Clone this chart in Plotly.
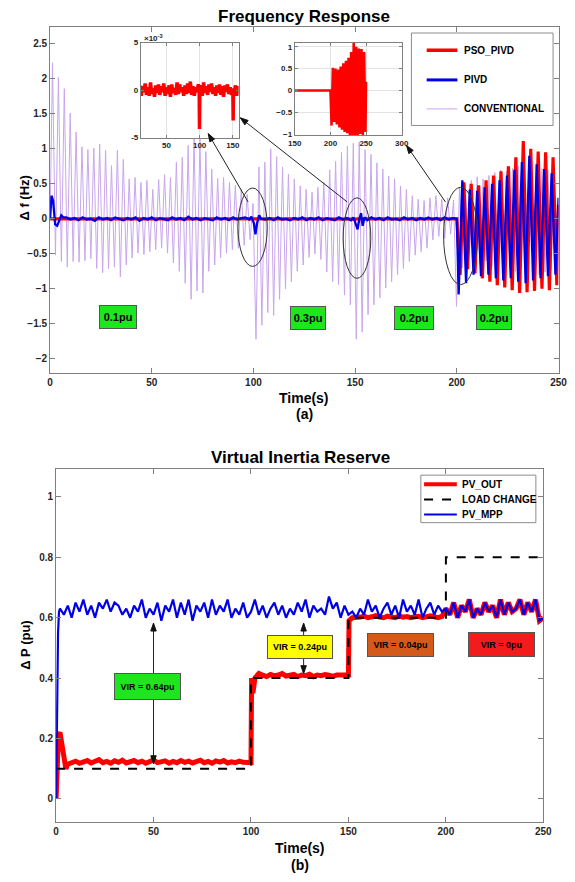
import math
import plotly.graph_objects as go

# ================= DATA =================
# --- Top panel: frequency response ---
conv_t0 = 1.2          # time of first conventional peak (s)
conv_T = 2.9           # conventional oscillation period (s)
conv_max = [2.23, 2.02, 1.86, 1.51, 1.24, 1.03, 0.99, 1.01, 1.07, 0.98,
            0.76, 0.98, 0.85, 0.57, 0.59, 0.52, 0.55, 0.42, 0.56, 0.63,
            0.59, 0.81, 0.88, 1.05, 1.15, 1.15, 0.96, 0.71, 0.58, 0.59,
            0.52, 0.48, 0.42, 0.35, 0.22, 0.74, 0.81, 1.00, 0.89, 0.74,
            0.64, 0.57, 0.47, 0.42, 0.38, 0.45, 0.52, 0.70, 0.82, 0.95,
            1.04, 1.08, 1.10, 0.99, 0.92, 0.80, 0.71, 0.61, 0.57, 0.47,
            0.42, 0.33, 0.28, 0.26, 0.30, 0.33, 0.28, 0.30, 0.27, 0.45,
            0.50, 0.55, 0.60, 0.57, 0.62, 0.66, 0.70, 0.68, 0.72, 0.75,
            0.70, 0.74, 0.78, 0.72, 0.70, 0.68]
conv_min = [-0.52, -0.61, -0.69, -0.61, -0.62, -0.60, -0.57, -0.71, -0.77, -0.71,
            -0.69, -0.83, -0.66, -0.56, -0.49, -0.51, -0.47, -0.44, -0.42, -0.49,
            -0.63, -0.75, -0.92, -1.15, -1.03, -1.06, -0.75, -0.66, -0.56, -0.49,
            -0.44, -0.42, -0.38, -0.30, -1.72, -1.52, -1.34, -1.38, -1.15, -1.00,
            -0.90, -0.75, -0.66, -0.55, -0.50, -0.58, -0.76, -0.90, -0.94, -1.09,
            -1.23, -1.72, -1.62, -1.37, -1.23, -1.13, -0.99, -0.90, -0.80, -0.71,
            -0.61, -0.52, -0.47, -0.42, -0.30, -0.25, -0.28, -0.22, -1.25, -0.70,
            -0.60, -0.62, -0.65, -0.60, -0.68, -0.70, -0.66, -0.72, -0.75, -0.70,
            -0.78, -0.74, -0.80, -0.76, -0.72, -0.70]

# PIVD (blue) before 200 s
blue_start_t = [0, 0.7, 1.5, 2.5, 3.5, 4.5, 5.5, 6.5]
blue_start_v = [0, 0.33, 0.26, -0.08, -0.10, -0.03, 0.05, 0.02]
blue_base_v = [0.02, -0.01, 0.01, -0.02, 0.02, -0.01, 0.00, -0.03, 0.02, -0.01,
               0.01, -0.02, 0.02, 0.00, -0.02, 0.01, -0.01, 0.02, -0.03, 0.01,
               -0.01, 0.02, -0.02, 0.01, 0.00, -0.02, 0.02, -0.01, 0.01, -0.02,
               0.03, -0.01, 0.01, -0.02, 0.01, 0.00, -0.02, 0.02, -0.01, 0.01,
               -0.02, 0.02, -0.01, 0.01, 0.02, -0.01, 0.01, -0.02, 0.02, -0.01,
               0.01, -0.02, 0.02, -0.01, 0.00, -0.02, 0.01, -0.01, 0.02, -0.02,
               0.01, -0.01, 0.02, -0.02, 0.01, 0.00, -0.02, 0.02, -0.01, 0.01,
               -0.02, 0.02, -0.01, 0.01, -0.02, 0.02, -0.01, 0.01, -0.02, 0.02,
               -0.01, 0.00, -0.02, 0.02, -0.01, 0.01, -0.02, 0.01, -0.01, 0.02,
               -0.01, 0.01, -0.02, 0.02, -0.01, 0.01]   # t = 8..198 step 2
blue_evt_t = [99.0, 100.2, 101.0, 101.8, 102.8, 103.8,
              149.2, 150.3, 151.2, 152.1, 152.9, 153.7, 154.6]
blue_evt_v = [0.03, -0.06, -0.22, -0.06, 0.05, 0.00,
              0.02, -0.07, -0.15, 0.00, 0.08, -0.10, 0.02]
# PIVD after 200 s (peaks / troughs)
blue_post_t0_min = 200.9
blue_post_t0_max = 202.7
post_T = 3.66
blue_post_min = [-1.08, -0.92, -0.80, -0.82, -0.80, -0.85, -0.88, -0.85, -0.90, -0.92,
                 -0.88, -0.85, -0.82, -0.80]
blue_post_max = [0.55, 0.42, 0.40, 0.45, 0.50, 0.55, 0.62, 0.70, 0.81, 0.90,
                 0.78, 0.71, 0.65]

# PSO_PIVD (red) before 200 s, in units of 1e-3 Hz, t = 0..200 step 2
red_base_milli = [0.0, 0.6, -0.5, 0.7, -0.3, 0.5, -0.6, 0.4, -0.2, 0.7,
                  -0.5, 0.3, -0.6, 0.8, -0.4, 0.2, -0.7, 0.5, -0.3, 0.6,
                  -0.5, 0.4, -0.2, 0.7, -0.6, 0.3, -0.4, 0.5, -0.7, 0.6,
                  -0.3, 0.2, -0.5, 0.8, -0.4, 0.6, -0.2, 0.3, -0.6, 0.5,
                  -0.4, 0.7, -0.3, 0.9, -0.5, 0.4, -0.6, 0.3, -0.2, 0.6,
                  -0.4, 0.5, -0.6, 0.8, -0.3, 0.4, -0.5, 0.6, -0.2, 0.7,
                  -0.4, 0.3, -0.6, 0.5, -0.3, 0.6, -0.5, 0.4, -0.7, 0.5,
                  -0.2, 0.6, -0.4, 0.3, -0.5, 0.8, -0.3, 0.5, -0.6, 0.4,
                  -0.3, 0.5, -0.4, 0.6, -0.2, 0.4, -0.5, 0.3, -0.6, 0.5,
                  -0.3, 0.4, -0.5, 0.6, -0.2, 0.3, -0.4, 0.5, -0.3, 0.4,
                  0.0]
red_dip_t = [99.3, 99.8, 100.3, 150.0, 150.5, 151.0]
red_dip_milli = [0.2, -4.1, 0.1, 0.1, -3.2, 0.2]
red_post_t0_min = 201.6
red_post_t0_max = 203.4
red_post_min = [-0.80, -0.72, -0.78, -0.85, -0.90, -0.95, -0.98, -1.02, -1.06, -1.05,
                -1.03, -1.00, -1.02, -0.95]
red_post_max = [0.52, 0.50, 0.48, 0.55, 0.62, 0.68, 0.75, 0.88, 1.11, 1.00,
                0.96, 0.95, 0.88]

# --- Bottom panel: virtual inertia reserve ---
mpp_start_t = [0, 0.5, 1.0, 1.5]
mpp_start_v = [0.0, 0.30, 0.55, 0.62]
mpp_v = [0.63, 0.61, 0.64, 0.60, 0.65, 0.62, 0.66, 0.61, 0.64, 0.60,
         0.65, 0.63, 0.66, 0.62, 0.65, 0.64, 0.61, 0.63, 0.60, 0.64,
         0.62, 0.66, 0.60, 0.63, 0.61, 0.65, 0.59, 0.64, 0.62, 0.66,
         0.60, 0.65, 0.61, 0.66, 0.59, 0.64, 0.62, 0.65, 0.60, 0.66,
         0.61, 0.64, 0.62, 0.66, 0.60, 0.63, 0.61, 0.65, 0.60, 0.62,
         0.66, 0.61, 0.64, 0.60, 0.63, 0.65, 0.61, 0.64, 0.60, 0.63,
         0.61, 0.65, 0.62, 0.66, 0.60, 0.64, 0.62, 0.63, 0.61, 0.67,
         0.63, 0.65, 0.60, 0.64, 0.61, 0.62, 0.60, 0.63, 0.61, 0.66,
         0.62, 0.64, 0.60, 0.63, 0.65, 0.61, 0.64, 0.60, 0.66, 0.62,
         0.64, 0.61, 0.66, 0.60, 0.63, 0.65, 0.61, 0.64, 0.62, 0.63,
         0.61, 0.65, 0.60, 0.64, 0.62, 0.66, 0.60, 0.63, 0.61, 0.65,
         0.62, 0.64, 0.60, 0.66, 0.61, 0.65, 0.62, 0.63, 0.66, 0.61,
         0.65, 0.62, 0.66, 0.59, 0.60]          # t = 2..250 step 2

out_start_t = [0, 0.6, 1.2, 2.0, 3.0, 4.0, 5.0, 6.0]
out_start_v = [0.0, 0.15, 0.21, 0.22, 0.17, 0.12, 0.10, 0.115]
out_seg1_v = [0.120, 0.125, 0.118, 0.122, 0.127, 0.119, 0.123, 0.130, 0.120, 0.124,
              0.118, 0.126, 0.121, 0.128, 0.119, 0.123, 0.127, 0.120, 0.125, 0.118,
              0.124, 0.129, 0.120, 0.122, 0.126, 0.118, 0.124, 0.120, 0.127, 0.121,
              0.125, 0.119, 0.123, 0.128, 0.120, 0.124, 0.118, 0.126, 0.122, 0.127,
              0.119, 0.123, 0.120, 0.125, 0.121, 0.120]   # t = 8..98
out_step1_t = [100.0, 100.3, 101.0, 102.0, 104.0]
out_step1_v = [0.12, 0.40, 0.35, 0.40, 0.415]
out_seg2_v = [0.410, 0.405, 0.412, 0.408, 0.410, 0.415, 0.407, 0.410, 0.412, 0.405,
              0.410, 0.408, 0.413, 0.405, 0.410, 0.408, 0.412, 0.410, 0.406, 0.410,
              0.408, 0.410]                               # t = 106..148
out_step2_t = [150.0, 150.3, 152.0]
out_step2_v = [0.41, 0.59, 0.60]
out_seg3_v = [0.600, 0.602, 0.605, 0.600, 0.603, 0.607, 0.602, 0.600, 0.605, 0.603,
              0.600, 0.606, 0.602, 0.604, 0.600, 0.603, 0.605, 0.600, 0.602, 0.606,
              0.603, 0.600, 0.604]                        # t = 154..198

load_t = [0, 100, 100, 150, 150, 200, 200, 250]
load_v = [0.1, 0.1, 0.4, 0.4, 0.6, 0.6, 0.8, 0.8]

# ================= BUILD SERIES =================
conv_t, conv_v = [0.0], [0.0]
for k in range(len(conv_max)):
    tm = conv_t0 + k * conv_T
    conv_t += [tm, tm + conv_T / 2]
    conv_v += [conv_max[k], conv_min[k]]
conv_t.append(250.0); conv_v.append(0.0)


def alternate(t0_min, mins, t0_max, maxs, T):
    pts = [(t0_min + i * T, v) for i, v in enumerate(mins)]
    pts += [(t0_max + i * T, v) for i, v in enumerate(maxs)]
    pts = sorted(p for p in pts if p[0] <= 250)
    return [p[0] for p in pts], [p[1] for p in pts]


def in_windows(t, wins):
    return any(a <= t <= b for a, b in wins)

# blue top
bpts = list(zip(blue_start_t, blue_start_v))
for i, v in enumerate(blue_base_v):
    t = 8 + 2 * i
    if not in_windows(t, [(98.5, 104.5), (148.5, 155)]):
        bpts.append((t, v))
bpts += list(zip(blue_evt_t, blue_evt_v))
bpts.append((200.0, 0.0))
bpts.sort()
bt2, bv2 = alternate(blue_post_t0_min, blue_post_min, blue_post_t0_max, blue_post_max, post_T)
blue_t = [p[0] for p in bpts] + bt2 + [250.0]
blue_v = [p[1] for p in bpts] + bv2 + [0.3]

# red top
rpts = []
for i, v in enumerate(red_base_milli):
    t = 2 * i
    if not in_windows(t, [(99, 100.6), (149.7, 151.3)]):
        rpts.append((t, v * 1e-3))
rpts += [(t, v * 1e-3) for t, v in zip(red_dip_t, red_dip_milli)]
rpts.sort()
rt2, rv2 = alternate(red_post_t0_min, red_post_min, red_post_t0_max, red_post_max, post_T)
red_t = [p[0] for p in rpts] + rt2 + [250.0]
red_v = [p[1] for p in rpts] + rv2 + [0.2]

# bottom
mpp_t = mpp_start_t + [2 + 2 * i for i in range(len(mpp_v))]
mpp_all = mpp_start_v + mpp_v
out_t = (out_start_t + [8 + 2 * i for i in range(len(out_seg1_v))] + out_step1_t
         + [106 + 2 * i for i in range(len(out_seg2_v))] + out_step2_t
         + [154 + 2 * i for i in range(len(out_seg3_v))])
out_v = out_start_v + out_seg1_v + out_step1_v + out_seg2_v + out_step2_v + out_seg3_v
for t, v in zip(mpp_t, mpp_all):
    if t >= 200:
        out_t.append(t); out_v.append(v)

# ================= FIGURE =================
W, H = 575, 882
def px(x): return x / W
def py(y): return 1 - y / H

FONT = "Liberation Sans"
RED, BLUE, PURPLE = "#ff0000", "#0000e6", "#c9a6ec"
AX = "#7f7f7f"
TXT = "#262626"

fig = go.Figure()
fig.add_trace(go.Scatter(x=conv_t, y=conv_v, mode="lines", line=dict(color=PURPLE, width=1),
                         xaxis="x", yaxis="y", showlegend=False))
fig.add_trace(go.Scatter(x=red_t, y=red_v, mode="lines", line=dict(color=RED, width=3.2),
                         xaxis="x", yaxis="y", showlegend=False))
fig.add_trace(go.Scatter(x=blue_t, y=blue_v, mode="lines", line=dict(color=BLUE, width=2.3),
                         xaxis="x", yaxis="y", showlegend=False))
# insets
fig.add_trace(go.Scatter(x=red_t, y=red_v, mode="lines", line=dict(color=RED, width=3.5),
                         xaxis="x3", yaxis="y3", showlegend=False))
fig.add_trace(go.Scatter(x=red_t, y=red_v, mode="lines", line=dict(color=RED, width=2.5),
                         xaxis="x4", yaxis="y4", showlegend=False))
# bottom
fig.add_trace(go.Scatter(x=out_t, y=out_v, mode="lines", line=dict(color=RED, width=5),
                         xaxis="x2", yaxis="y2", showlegend=False))
fig.add_trace(go.Scatter(x=load_t, y=load_v, mode="lines", line=dict(color="black", width=2, dash="dash"),
                         xaxis="x2", yaxis="y2", showlegend=False))
fig.add_trace(go.Scatter(x=mpp_t, y=mpp_all, mode="lines", line=dict(color=BLUE, width=2.2),
                         xaxis="x2", yaxis="y2", showlegend=False))

tickfont = dict(family=FONT, size=10, color=TXT, weight="bold")
small = dict(family=FONT, size=8, color=TXT, weight="bold")
common = dict(showline=True, linecolor=AX, linewidth=1, mirror="ticks", ticks="inside",
              ticklen=5, tickcolor=AX, showgrid=False, zeroline=False, tickfont=tickfont)
inset_common = dict(showline=True, linecolor=AX, linewidth=1, mirror="ticks", ticks="inside",
                    ticklen=3, tickcolor=AX, showgrid=True, gridcolor="#e3e3e3", zeroline=False,
                    tickfont=small)

fig.update_layout(
    width=W, height=H, margin=dict(l=0, r=0, t=0, b=0),
    paper_bgcolor="white", plot_bgcolor="white", showlegend=False,
    xaxis=dict(domain=[px(44.3), px(567.3)], range=[0, 250], tickvals=[0, 50, 100, 150, 200, 250],
               anchor="y", **common),
    yaxis=dict(domain=[py(373.3), py(23.3)], range=[-2.21, 2.74],
               tickvals=[-2, -1.5, -1, -0.5, 0, 0.5, 1, 1.5, 2, 2.5], anchor="x", **common),
    xaxis2=dict(domain=[px(50.5), px(551.7)], range=[0, 250], tickvals=[0, 50, 100, 150, 200, 250],
                anchor="y2", **common),
    yaxis2=dict(domain=[py(826), py(469.3)], range=[-0.075, 1.094],
                tickvals=[0, 0.2, 0.4, 0.6, 0.8, 1], anchor="x2", **common),
    xaxis3=dict(domain=[px(137.7), px(238.3)], range=[11.5, 158.8], tickvals=[50, 100, 150],
                anchor="y3", **inset_common),
    yaxis3=dict(domain=[py(135), py(39)], range=[-0.005, 0.005], tickvals=[-0.005, 0, 0.005],
                ticktext=["-5", "0", "5"], anchor="x3", **inset_common),
    xaxis4=dict(domain=[px(296), px(406)], range=[150, 300], tickvals=[150, 200, 250, 300],
                anchor="y4", **inset_common),
    yaxis4=dict(domain=[py(132.3), py(39.3)], range=[-1.02, 1.09],
                tickvals=[-1, -0.5, 0, 0.5, 1], anchor="x4", **inset_common),
)

shapes = []
anns = []

def ptext(x, y, text, size, anchor="center", angle=0, color="black"):
    anns.append(dict(x=px(x), y=py(y), xref="paper", yref="paper", text=text, showarrow=False,
                     xanchor=anchor, yanchor="middle", textangle=angle,
                     font=dict(family=FONT, size=size, color=color, weight="bold")))

# titles / axis labels
ptext(306, 13, "Frequency Response", 17)
ptext(302, 458, "Virtual Inertia Reserve", 17)
ptext(306, 398, "Time(s)", 14)
ptext(306, 414, "(a)", 14)
ptext(301, 853, "Time(s)", 14)
ptext(301, 870, "(b)", 14)
ptext(17, 196, "Δ f (Hz)", 13, angle=-90)
ptext(19, 647, "Δ P (pu)", 13, angle=-90)
ptext(139, 34, "×10<sup>-3</sup>", 8, anchor="left", color=TXT)

# ellipses
for x0, x1, y0, y1 in [(92.4, 106.8, -0.68, 0.44), (144.1, 157.7, -0.85, 0.30), (193.5, 210.2, -0.94, 0.45)]:
    shapes.append(dict(type="circle", xref="x", yref="y", x0=x0, x1=x1, y0=y0, y1=y1,
                       line=dict(color="#333333", width=1)))

# arrows drawn as shapes (pixel positions on the page)
def arrow(tx, ty, hx, hy, both=False, L=8.0, w=2.8):
    def head(ax_, ay_, bx, by):
        dx, dy = bx - ax_, by - ay_
        n = math.hypot(dx, dy)
        ux, uy = dx / n, dy / n
        nx, ny = -uy, ux
        p1 = (bx, by)
        p2 = (bx - L * ux + w * nx, by - L * uy + w * ny)
        p3 = (bx - L * ux - w * nx, by - L * uy - w * ny)
        path = "M {} {} L {} {} L {} {} Z".format(px(p1[0]), py(p1[1]), px(p2[0]), py(p2[1]),
                                                  px(p3[0]), py(p3[1]))
        shapes.append(dict(type="path", xref="paper", yref="paper", path=path,
                           fillcolor="#111111", line=dict(color="#111111", width=1), layer="above"))
    shapes.append(dict(type="line", xref="paper", yref="paper", x0=px(tx), y0=py(ty), x1=px(hx), y1=py(hy),
                       line=dict(color="#222222", width=1), layer="above"))
    head(tx, ty, hx, hy)
    if both:
        head(hx, hy, tx, ty)

arrow(248, 200, 207, 131)
arrow(350, 200, 240, 115)
arrow(451, 200, 411, 143)
arrow(150.7, 767.5, 150.7, 625.5, both=True)
arrow(305.1, 676.5, 305.1, 625.5, both=True)

# label boxes
def box(cx, cy, w, h, text, color, size):
    anns.append(dict(x=px(cx), y=py(cy), xref="paper", yref="paper", text=text, showarrow=False,
                     xanchor="center", yanchor="middle", width=w - 2, height=h - 2,
                     bgcolor=color, bordercolor="#555555", borderwidth=1, borderpad=0,
                     font=dict(family=FONT, size=size, color="black", weight="bold")))

box(114.5, 316.7, 38, 24, "0.1pu", "#1ee61e", 11)
box(309.7, 317.3, 36, 24, "0.3pu", "#1ee61e", 11)
box(419, 317, 40, 24, "0.2pu", "#1ee61e", 11)
box(501.3, 316.7, 36, 25, "0.2pu", "#1ee61e", 11)
box(145, 689.5, 67, 27, "VIR = 0.64pu", "#1ee61e", 9)
box(301.5, 649.3, 66, 24, "VIR = 0.24pu", "#ffff00", 9)
box(405, 647.8, 67, 24, "VIR = 0.04pu", "#d45a1c", 9)
box(508.7, 647.3, 67, 25, "VIR = 0pu", "#f21c1c", 9)

# legend top
shapes.append(dict(type="rect", xref="paper", yref="paper", x0=px(416), x1=px(561.7), y0=py(122.7), y1=py(29.3),
                   line=dict(color="#8c8c8c", width=1), fillcolor="white", layer="above"))
for yy, col, wd, lab in [(46.7, RED, 3.5, "PSO_PIVD"), (76.7, BLUE, 3, "PIVD"), (106, PURPLE, 1, "CONVENTIONAL")]:
    shapes.append(dict(type="line", xref="paper", yref="paper", x0=px(431.7), x1=px(463.3), y0=py(yy), y1=py(yy),
                       line=dict(color=col, width=wd), layer="above"))
    ptext(467.7, yy, lab, 10, anchor="left")

# legend bottom
shapes.append(dict(type="rect", xref="paper", yref="paper", x0=px(425.7), x1=px(544), y0=py(524), y1=py(476),
                   line=dict(color="#8c8c8c", width=1), fillcolor="white", layer="above"))
for yy, col, wd, dash, lab in [(485.3, RED, 4, "solid", "PV_OUT"), (500.7, "black", 2, "dash", "LOAD CHANGE"),
                               (515.7, BLUE, 2, "solid", "PV_MPP")]:
    shapes.append(dict(type="line", xref="paper", yref="paper", x0=px(429), x1=px(462.7), y0=py(yy), y1=py(yy),
                       line=dict(color=col, width=wd, dash=dash), layer="above"))
    ptext(465.7, yy, lab, 10, anchor="left")

fig.update_layout(shapes=shapes, annotations=anns)
fig.write_html("out.html")
